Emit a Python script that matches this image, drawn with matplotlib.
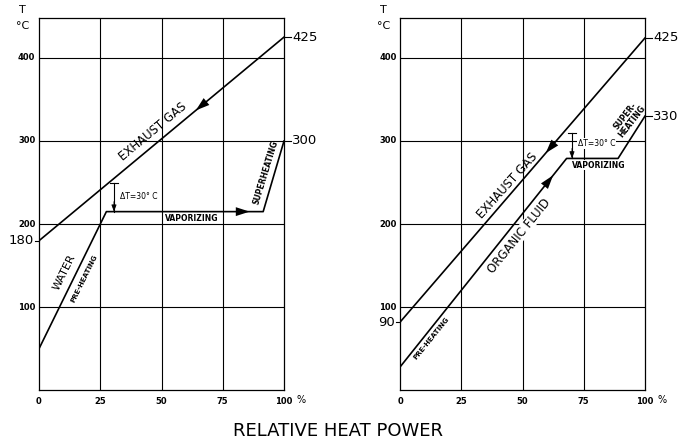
import numpy as np
import matplotlib
matplotlib.use("Agg")
import matplotlib.pyplot as plt

# x = relative heat power (%), y = temperature (deg C)
ticks_x = [0, 25, 50, 75, 100]
ticks_y = [100, 200, 300, 400]

# left: water cycle
gas_w_x = [0, 100]
gas_w_y = [180, 425]
water_x = [0, 25, 27.5, 91.5, 100]
water_y = [50, 200, 215, 215, 300]
pinch_w_x = 30.6
pinch_w_y = [250, 215]

# right: organic fluid cycle
gas_o_x = [0, 100]
gas_o_y = [82, 424]
org_x = [0, 68, 89, 100]
org_y = [28, 279, 279, 330]
pinch_o_x = 70.2
pinch_o_y = [310, 279]

fig = plt.figure(figsize=(6.81, 4.40), dpi=100)
axL = fig.add_axes([39/681, 1-390.3/440, 245/681, 372.3/440])
axR = fig.add_axes([400/681, 1-390.3/440, 245/681, 372.3/440])

LW = 1.2
WB = dict(facecolor="white", edgecolor="none", pad=0.5)


def setup(ax):
    ax.set_xlim(0, 100)
    ax.set_ylim(0, 448)
    ax.set_xticks([])
    ax.set_yticks([])
    for s in ax.spines.values():
        s.set_linewidth(0.9)
    for x in ticks_x[1:-1]:
        ax.axvline(x, color="black", lw=0.8, zorder=1)
    for y in ticks_y:
        ax.axhline(y, color="black", lw=0.8, zorder=1)
    for x in ticks_x:
        ax.text(x, -14, "%d" % x, ha="center", va="center", fontsize=6,
                fontweight="bold")
    ax.text(107, -12, "%", ha="center", va="center", fontsize=7)
    for y in ticks_y:
        ax.text(-5, y, "%d" % y, ha="center", va="center", fontsize=6,
                fontweight="bold")
    ax.text(-6.8, 458, "T", ha="center", va="center", fontsize=8,
            clip_on=False)
    ax.text(-6.8, 438, "°C", ha="center", va="center", fontsize=8,
            clip_on=False)


def arrow_on(ax, xs, ys, x0, x1):
    y0 = np.interp(x0, xs, ys)
    y1 = np.interp(x1, xs, ys)
    ax.annotate("", xy=(x1, y1), xytext=(x0, y0),
                arrowprops=dict(arrowstyle="-|>,head_length=1.0,head_width=0.32",
                                color="black", lw=0, shrinkA=0, shrinkB=0),
                zorder=4)


def pinch(ax, x, ys, label, lx, ly):
    ax.plot([x, x], ys, color="black", lw=0.8, zorder=3)
    ax.plot([x - 1.6, x + 1.6], [ys[0], ys[0]], color="black", lw=0.8)
    ax.annotate("", xy=(x, ys[1]), xytext=(x, ys[1] + 12),
                arrowprops=dict(arrowstyle="-|>,head_length=0.4,head_width=0.15",
                                color="black", lw=0.6, shrinkA=0, shrinkB=0))
    ax.text(lx, ly, label, ha="left", va="center", fontsize=5.5, bbox=WB)


def side_label(ax, y, text, side):
    if side == "left":
        ax.plot([-1.8, 0], [y, y], color="black", lw=0.8, clip_on=False)
        ax.text(-2.2, y, text, ha="right", va="center", fontsize=9.5)
    else:
        ax.plot([100, 102.8], [y, y], color="black", lw=0.8, clip_on=False)
        ax.text(103.4, y, text, ha="left", va="center", fontsize=9.5)


for ax in (axL, axR):
    setup(ax)

# ---- left chart ----
axL.plot(gas_w_x, gas_w_y, color="black", lw=LW, zorder=3)
axL.plot(water_x, water_y, color="black", lw=LW, zorder=3)
arrow_on(axL, gas_w_x, gas_w_y, 70, 64)
arrow_on(axL, water_x, water_y, 78, 86)
pinch(axL, pinch_w_x, pinch_w_y, "ΔT=30° C", 33, 233)
axL.text(46.5, 311, "EXHAUST GAS", rotation=39.7, ha="center", va="center",
         fontsize=8.5)
axL.text(62.3, 207, "VAPORIZING", ha="center", va="center", fontsize=5.5,
         fontweight="bold", bbox=WB)
axL.text(92.6, 262, "SUPERHEATING", rotation=73, ha="center", va="center",
         fontsize=5.5, fontweight="bold")
axL.text(10.5, 142, "WATER", rotation=63.8, ha="center", va="center",
         fontsize=8)
axL.text(18.5, 135, "PRE-HEATING", rotation=63.8, ha="center", va="center",
         fontsize=5, fontweight="bold")
side_label(axL, gas_w_y[0], "180", "left")
side_label(axL, gas_w_y[1], "425", "right")
side_label(axL, water_y[-1], "300", "right")

# ---- right chart ----
axR.plot(gas_o_x, gas_o_y, color="black", lw=LW, zorder=3)
axR.plot(org_x, org_y, color="black", lw=LW, zorder=3)
arrow_on(axR, gas_o_x, gas_o_y, 65, 59.5)
arrow_on(axR, org_x, org_y, 57, 62.5)
pinch(axR, pinch_o_x, pinch_o_y, "ΔT=30° C", 72.7, 297)
axR.text(44, 246, "EXHAUST GAS", rotation=48, ha="center", va="center",
         fontsize=8.5)
axR.text(48.5, 186, "ORGANIC FLUID", rotation=51, ha="center", va="center",
         fontsize=8.5, bbox=dict(facecolor="white", edgecolor="none", pad=0.2))
axR.text(81, 271, "VAPORIZING", ha="center", va="center", fontsize=5.5,
         fontweight="bold", bbox=WB)
axR.text(93.2, 327, "SUPER-\nHEATING", rotation=52, ha="center", va="center",
         fontsize=5.5, fontweight="bold", linespacing=1.0)
axR.text(13, 63, "PRE-HEATING", rotation=51, ha="center", va="center",
         fontsize=5, fontweight="bold")
side_label(axR, gas_o_y[0], "90", "left")
side_label(axR, gas_o_y[1], "425", "right")
side_label(axR, org_y[-1], "330", "right")

fig.text(338/681, 1-431/440, "RELATIVE HEAT POWER", ha="center", va="center",
         fontsize=13)

fig.savefig("out.png", dpi=100)
